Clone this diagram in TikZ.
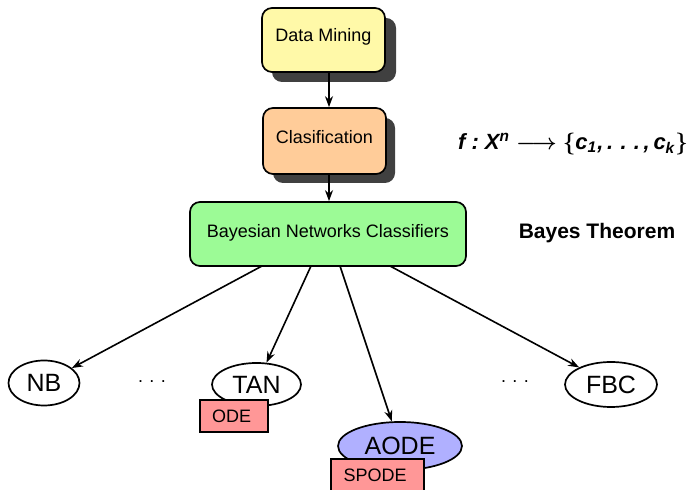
\documentclass[tikz,border=0pt]{standalone}
\usepackage{amsmath}
\usepackage{fontspec}
\setmainfont{Liberation Sans}
\usetikzlibrary{shapes.geometric,arrows.meta}
\definecolor{dmyellow}{HTML}{FFF9A8}
\definecolor{clpeach}{HTML}{FFCC99}
\definecolor{bngreen}{HTML}{9CFB96}
\definecolor{odered}{HTML}{FF9797}
\definecolor{aodeblue}{HTML}{B0B0FF}
\definecolor{shadowgray}{HTML}{404040}
\begin{document}
\begin{tikzpicture}[x=0.5pt,y=-0.5pt,
  box/.style={draw,line width=0.85pt,rounded corners=5pt,inner sep=0pt,font=\fontsize{9}{10}\selectfont},
  ell/.style={draw,ellipse,line width=0.85pt,inner sep=0pt,font=\fontsize{12.5}{14}\selectfont},
  tag/.style={draw,line width=0.85pt,fill=odered,inner sep=0pt,font=\fontsize{9}{10}\selectfont,text width=#1,align=left},
  dots/.style={font=\fontsize{9}{10}\selectfont},
  arr/.style={line width=0.8pt,-{Stealth[length=5.5pt,width=4pt]}}]
\useasboundingbox (0,0) rectangle (690,490);
% shadows
\fill[shadowgray,rounded corners=5pt] (272,18) rectangle (396,82);
\fill[shadowgray,rounded corners=5pt] (273,118) rectangle (395,183);
% boxes
\node[box,fill=dmyellow,minimum width=61.5pt,minimum height=32pt] (dm) at (323.5,40) {\raisebox{5pt}{Data Mining}};
\node[box,fill=clpeach,minimum width=61.5pt,minimum height=33pt] (cl) at (324.5,141) {\raisebox{4pt}{Clasification}};
\node[box,fill=bngreen,minimum width=138pt,minimum height=32pt] (bn) at (328,234) {\raisebox{3pt}{Bayesian Networks Classifiers}};
\draw[arr] (dm.south -| 329,0) -- (cl.north -| 329,0);
\draw[arr] (cl.south -| 329,0) -- (bn.north -| 329,0);
% formulas
\node[font=\fontsize{11}{13}\selectfont\bfseries\itshape] (fx) at (573,144) {f~:~X\textsuperscript{n}~$\boldsymbol{\longrightarrow}$~$\boldsymbol{\{}$c\textsubscript{1},\,.\,\,.\,\,.\,,\,c\textsubscript{k}$\boldsymbol{\}}$};
\node[font=\fontsize{10.5}{12}\selectfont\bfseries] (bt) at (597,233) {Bayes Theorem};
% leaves
\node[ell,minimum width=35.5pt,minimum height=22.5pt] (nb) at (44,383) {NB};
\node[ell,fill=white,minimum width=44.5pt,minimum height=21.5pt] (tan) at (256.5,384.5) {TAN};
\node[tag=28pt,minimum width=34pt,minimum height=16pt] (ode) at (234,416) {\hspace{3pt}ODE};
\node[ell,fill=aodeblue,minimum width=62pt,minimum height=24pt] (aode) at (400,446) {AODE};
\node[tag=40pt,minimum width=46.5pt,minimum height=16pt] (spode) at (377.5,475) {\hspace{3pt}SPODE};
\node[ell,minimum width=46pt,minimum height=22.5pt] (fbc) at (611,384.5) {FBC};
\node[dots] (d1) at (152,382) {.\hspace{3.2pt}.\hspace{3.2pt}.};
\node[dots] (d2) at (515,382) {.\hspace{3.2pt}.\hspace{3.2pt}.};
% connectors
\draw[arr] (262,266) -- (nb);
\draw[arr] (311,266) -- (tan);
\draw[arr] (340,266) -- (aode);
\draw[arr] (390,266) -- (fbc);
\end{tikzpicture}
\end{document}
